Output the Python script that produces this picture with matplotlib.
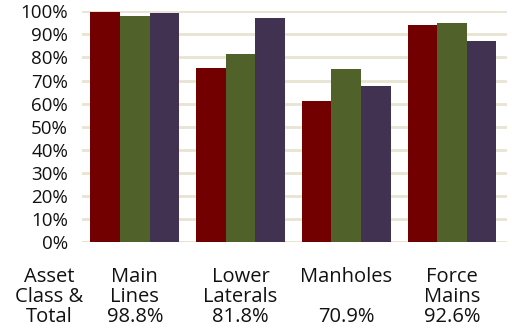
import numpy as np
import matplotlib
matplotlib.use("Agg")
import matplotlib.pyplot as plt
import matplotlib.transforms as mtransforms

plt.rcParams["font.family"] = ["Open Sans", "DejaVu Sans"]

# asset classes and overall totals shown under each group
classes = ["Main\nLines", "Lower\nLaterals", "Manholes\n", "Force\nMains"]
totals = ["98.8%", "81.8%", "70.9%", "92.6%"]
header = "Asset\nClass &\nTotal"

# three series per asset class (fractions)
series_a = [0.998, 0.755, 0.612, 0.942]
series_b = [0.981, 0.816, 0.751, 0.951]
series_c = [0.994, 0.972, 0.677, 0.872]
colors = ["#720000", "#50612a", "#403250"]

fig = plt.figure(figsize=(5.12, 3.28), dpi=100)
ax = fig.add_axes([0.160, 0.262, 0.830, 0.7035])

x = np.arange(len(classes))
w = 0.28
for i, (vals, c) in enumerate(zip([series_a, series_b, series_c], colors)):
    ax.bar(x + (i - 1) * w, vals, width=w, color=c, zorder=3)

ax.set_xlim(-0.5, 3.52)
ax.set_ylim(0, 1.0)
ax.set_yticks(np.arange(0, 1.01, 0.1))
ax.set_yticklabels([f"{int(round(v * 100))}%" for v in np.arange(0, 1.01, 0.1)])
ax.tick_params(axis="y", length=0, pad=10, labelsize=13.5, colors="#111111")
ax.set_xticks([])
ax.grid(axis="y", color="#e8e3d2", linewidth=2, zorder=0)
for s in ax.spines.values():
    s.set_visible(False)
ax.axhline(0, color="#e8e3d2", linewidth=2, zorder=1)

# category names + totals under the groups
trans = mtransforms.blended_transform_factory(ax.transData, ax.transAxes)
for xi, name, tot in zip(x, classes, totals):
    ax.text(xi, -0.109, f"{name}\n{tot}", transform=trans, ha="center", va="top",
            fontsize=14.5, linespacing=1.0, color="#111111")
ax.text(-0.81, -0.109, header, transform=trans, ha="center", va="top",
        fontsize=14.5, linespacing=1.0, color="#111111")

fig.savefig("out.png", dpi=100)
